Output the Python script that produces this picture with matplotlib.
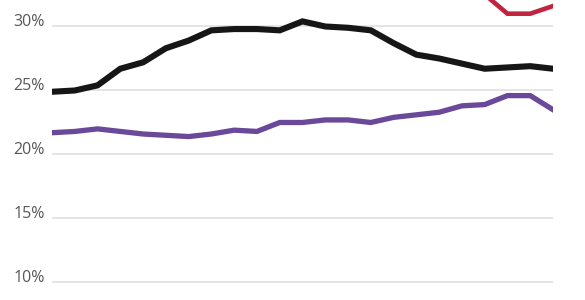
import numpy as np
import matplotlib.pyplot as plt

plt.rcParams['font.family'] = ['Open Sans', 'DejaVu Sans']

# one point per period, 23 periods
periods = list(range(23))
black = [24.9, 25.0, 25.4, 26.7, 27.2, 28.3, 28.9, 29.7, 29.8, 29.8, 29.7, 30.4,
         30.0, 29.9, 29.7, 28.7, 27.8, 27.5, 27.1, 26.7, 26.8, 26.9, 26.7]
purple = [21.7, 21.8, 22.0, 21.8, 21.6, 21.5, 21.4, 21.6, 21.9, 21.8, 22.5, 22.5,
          22.7, 22.7, 22.5, 22.9, 23.1, 23.3, 23.8, 23.9, 24.6, 24.6, 23.5]
# red sits above the visible range except at the very end
red = [np.nan] * 19 + [32.5, 31.0, 31.0, 31.6]

yticks = [10, 15, 20, 25, 30]
ytick_labels = ['10%', '15%', '20%', '25%', '30%']

fig = plt.figure(figsize=(5.85, 3.0), dpi=100)
ax = fig.add_axes([52 / 585, 0, (553 - 52) / 585, 1])

for y in yticks:
    ax.axhline(y, color='#e0e0e0', lw=1.2, zorder=1)

ax.plot(periods, red, color='#c0243f', lw=3.3, solid_joinstyle='miter', zorder=3)
ax.plot(periods, purple, color='#6a489a', lw=3.8, solid_joinstyle='miter', zorder=3)
ax.plot(periods, black, color='#161616', lw=4.4, solid_joinstyle='miter', zorder=4)

ax.set_xlim(0, 22)
ax.set_ylim(8.63, 32.07)
ax.set_xticks([])
ax.set_yticks(yticks)
ax.set_yticklabels(ytick_labels)
ax.tick_params(axis='y', length=0, pad=5, labelsize=11.5, labelcolor='#575757')
for lab in ax.get_yticklabels():
    lab.set_va('baseline')
for s in ax.spines.values():
    s.set_visible(False)

fig.savefig('out.png', dpi=100)
